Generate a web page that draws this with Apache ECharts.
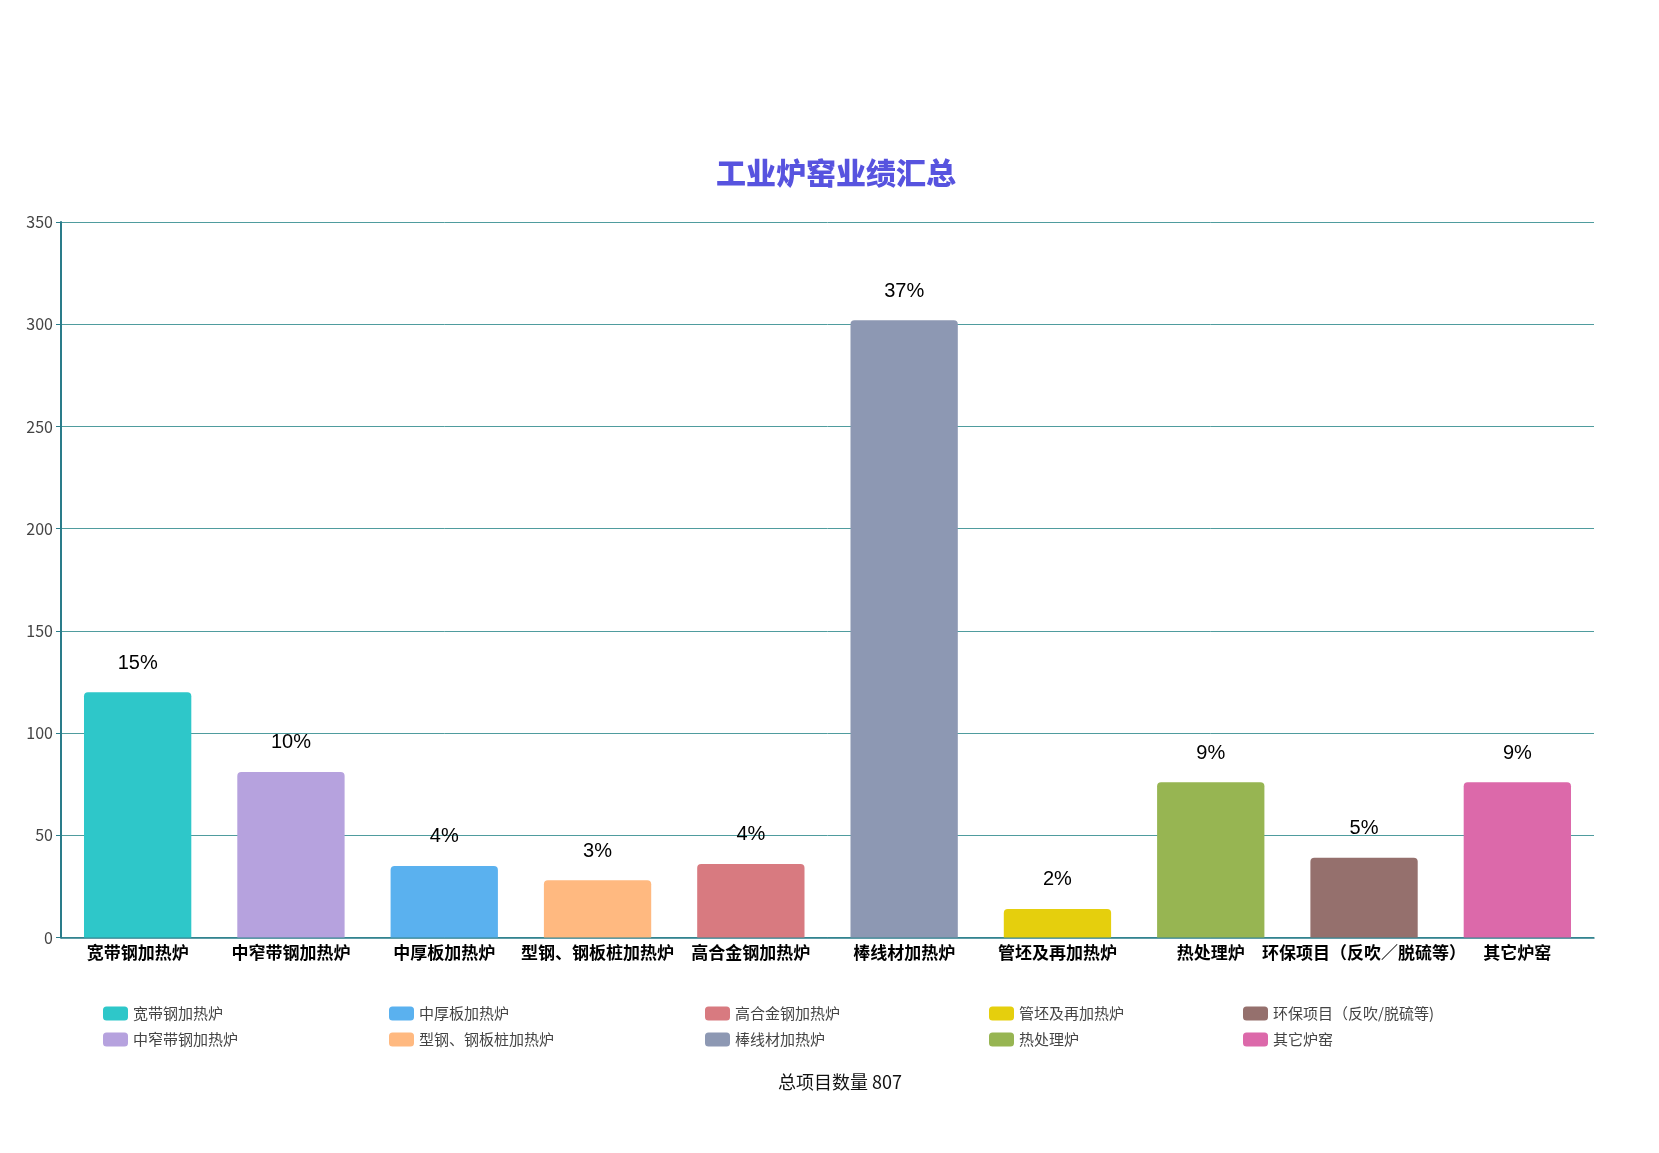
<!DOCTYPE html>
<html>
<head>
<meta charset="utf-8">
<script src="https://cdn.jsdelivr.net/npm/echarts@6/dist/echarts.min.js"></script>
<style>html,body{margin:0;padding:0;background:#fff;}#c{width:1659px;height:1153px;}</style>
</head>
<body>
<div id="c"></div>
<script>
const categories = ['宽带钢加热炉','中窄带钢加热炉','中厚板加热炉','型钢、钢板桩加热炉','高合金钢加热炉','棒线材加热炉','管坯及再加热炉','热处理炉','环保项目（反吹／脱硫等）','其它炉窑'];
const legendNames = ['宽带钢加热炉','中窄带钢加热炉','中厚板加热炉','型钢、钢板桩加热炉','高合金钢加热炉','棒线材加热炉','管坯及再加热炉','热处理炉','环保项目（反吹/脱硫等)','其它炉窑'];
const counts = [120, 81, 35, 28, 36, 302, 14, 76, 39, 76];
const colors = ['#2ec7c9','#b6a2de','#5ab1ef','#ffb980','#d87a80','#8d98b3','#e5cf0d','#97b552','#95706d','#dc69aa'];
const yTicks = [0, 50, 100, 150, 200, 250, 300, 350];

const total = counts.reduce((a, b) => a + b, 0);
const chart = echarts.init(document.getElementById('c'), null, {renderer: 'canvas'});

const series = legendNames.map((name, i) => ({
  name: name,
  type: 'bar',
  stack: 'all',
  barWidth: '70%',
  itemStyle: {color: colors[i], borderRadius: [4, 4, 0, 0]},
  label: {
    show: true, position: 'top', distance: 19,
    fontSize: 20, color: '#000', fontFamily: 'Liberation Sans Narrow, Liberation Sans, Arial, sans-serif',
    formatter: p => Math.round(p.value / total * 100) + '%'
  },
  data: counts.map((v, j) => j === i ? v : null)
}));

const legendLefts = [98, 384, 700, 984, 1238];
const legends = legendLefts.map((l, k) => ({
  orient: 'vertical', left: l, top: 1001,
  itemWidth: 25, itemHeight: 14, itemGap: 11, icon: 'roundRect',
  textStyle: {fontSize: 15, color: '#444', fontFamily: 'Noto Sans CJK SC'},
  data: [legendNames[k * 2], legendNames[k * 2 + 1]]
}));

chart.setOption({
  backgroundColor: '#fff',
  animation: false,
  title: [
    {text: '工业炉窑业绩汇总', left: 831, top: 153, textAlign: 'center',
     textStyle: {fontSize: 30, fontWeight: 900, color: '#5753df', fontFamily: 'Noto Sans CJK SC'}},
    {text: '总项目数量 ' + total, left: 835, top: 1068, textAlign: 'center',
     textStyle: {fontSize: 18, fontWeight: 'normal', color: '#111', fontFamily: 'Noto Sans CJK SC'}}
  ],
  legend: legends,
  grid: {left: 61, right: 65, top: 222, bottom: 215.5, containLabel: false},
  xAxis: {
    type: 'category', data: categories,
    axisLine: {lineStyle: {color: '#2a7c8a', width: 1.5}},
    axisTick: {alignWithLabel: true, interval: (idx) => idx % 2 === 1, length: 5},
    axisLabel: {interval: 0, fontSize: 17, fontWeight: 'bold', color: '#000', margin: 7, fontFamily: 'Noto Sans CJK SC'}
  },
  yAxis: {
    type: 'value', min: yTicks[0], max: yTicks[yTicks.length - 1], interval: 50,
    axisLine: {show: true, lineStyle: {color: '#2a7c8a', width: 2}},
    axisTick: {show: true, length: 5, lineStyle: {color: '#2a7c8a'}},
    axisLabel: {fontSize: 16, color: '#444', fontFamily: 'Noto Sans CJK SC'},
    splitLine: {lineStyle: {color: '#4f9c9e', width: 1}}
  },
  series: series
});
</script>
</body>
</html>
